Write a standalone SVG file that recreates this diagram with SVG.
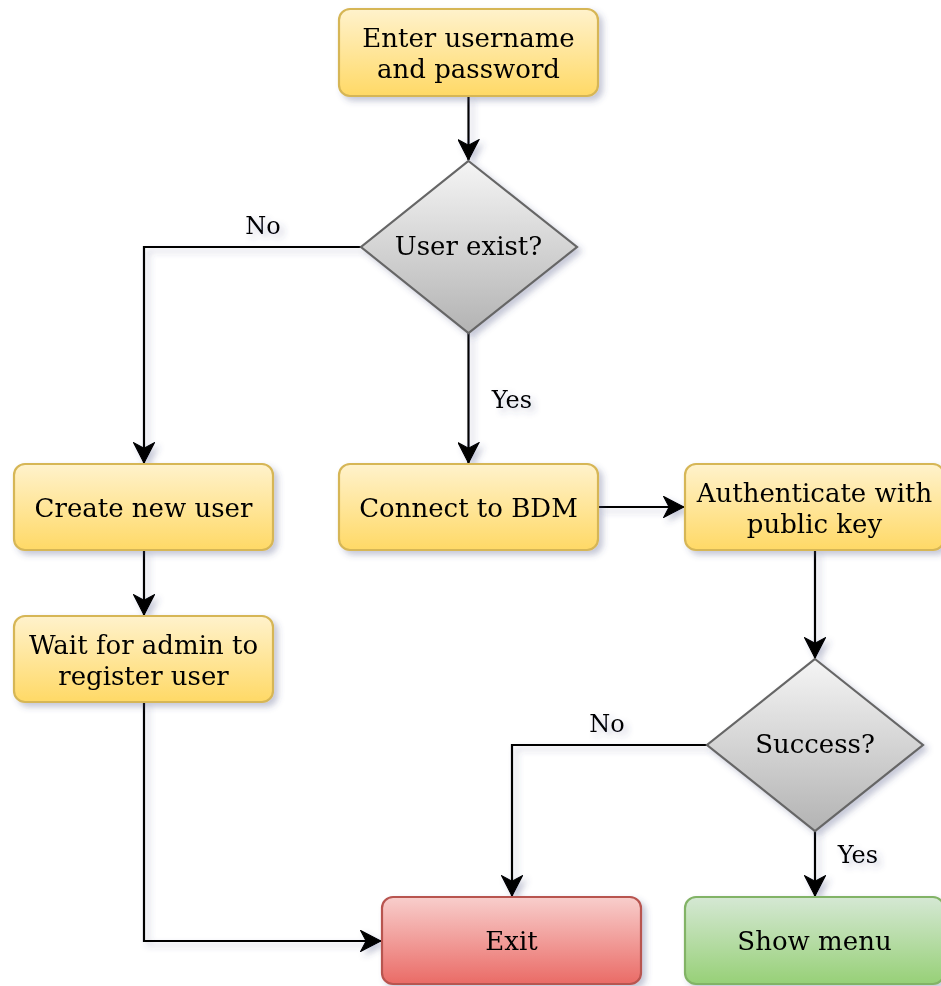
<svg xmlns="http://www.w3.org/2000/svg" width="941" height="986" viewBox="0 0 941 986">
  <defs>
    <linearGradient id="gYellow" x1="0" y1="0" x2="0" y2="1">
      <stop offset="0" stop-color="#fff2cc"/>
      <stop offset="1" stop-color="#ffd966"/>
    </linearGradient>
    <linearGradient id="gGray" x1="0" y1="0" x2="0" y2="1">
      <stop offset="0" stop-color="#f5f5f5"/>
      <stop offset="1" stop-color="#b3b3b3"/>
    </linearGradient>
    <linearGradient id="gRed" x1="0" y1="0" x2="0" y2="1">
      <stop offset="0" stop-color="#f8cecc"/>
      <stop offset="1" stop-color="#ea6b66"/>
    </linearGradient>
    <linearGradient id="gGreen" x1="0" y1="0" x2="0" y2="1">
      <stop offset="0" stop-color="#d5e8d4"/>
      <stop offset="1" stop-color="#97d077"/>
    </linearGradient>
    <filter id="shadow" x="-20%" y="-20%" width="140%" height="140%">
      <feDropShadow dx="4" dy="4" stdDeviation="3" flood-color="#3c4a7a" flood-opacity="0.3"/>
    </filter>
    <marker id="arrow" markerUnits="userSpaceOnUse" markerWidth="22" markerHeight="22" viewBox="0 0 20 20" refX="19" refY="10" orient="auto">
      <path d="M0.5,0.5 L19,10 L0.5,19.5 L5.5,10 Z" fill="#000" stroke="#000" stroke-width="1" stroke-linejoin="miter"/>
    </marker>
  </defs>
  <style>
    .box { stroke-width: 2.2; }
    .yellow { fill: url(#gYellow); stroke: #d6b656; }
    .gray { fill: url(#gGray); stroke: #666666; }
    .red { fill: url(#gRed); stroke: #b85450; }
    .green { fill: url(#gGreen); stroke: #82b366; }
    text { font-family: "DejaVu Serif", "Liberation Serif", serif; fill: #000; text-anchor: middle; }
    .t { font-size: 26px; }
    .lbl { font-size: 24px; }
    .edge { fill: none; stroke: #000; stroke-width: 2.2; marker-end: url(#arrow); }
  </style>

  <!-- connectors -->
  <g id="connectors" filter="url(#shadow)">
    <path class="edge" d="M468.5,96 L468.5,160"/>
    <path class="edge" d="M361,247 L144,247 L144,463"/>
    <text class="lbl" x="263" y="234">No</text>
    <path class="edge" d="M468.5,333 L468.5,463"/>
    <text class="lbl" x="512" y="408">Yes</text>
    <path class="edge" d="M598,507 L684,507"/>
    <path class="edge" d="M815,550 L815,658"/>
    <path class="edge" d="M144,550 L144,615"/>
    <path class="edge" d="M144,702 L144,941 L381,941"/>
    <path class="edge" d="M707,745 L512,745 L512,896"/>
    <text class="lbl" x="607" y="732">No</text>
    <path class="edge" d="M815,831 L815,896"/>
    <text class="lbl" x="858" y="863">Yes</text>
  </g>

  <!-- nodes -->
  <g id="enter" filter="url(#shadow)">
    <rect class="box yellow" x="339" y="9" width="259" height="87" rx="11"/>
    <text class="t" x="468.5" y="46.5">Enter username</text>
    <text class="t" x="468.5" y="77.5">and password</text>
  </g>
  <g id="user-exist" filter="url(#shadow)">
    <polygon class="box gray" points="468.5,161 577,247 468.5,333 361,247"/>
    <text class="t" x="468.5" y="255">User exist?</text>
  </g>
  <g id="create-user" filter="url(#shadow)">
    <rect class="box yellow" x="14" y="464" width="259" height="86" rx="11"/>
    <text class="t" x="143.5" y="516.5">Create new user</text>
  </g>
  <g id="connect-bdm" filter="url(#shadow)">
    <rect class="box yellow" x="339" y="464" width="259" height="86" rx="11"/>
    <text class="t" x="468.5" y="516.5">Connect to BDM</text>
  </g>
  <g id="authenticate" filter="url(#shadow)">
    <rect class="box yellow" x="685" y="464" width="259" height="86" rx="11"/>
    <text class="t" x="814.5" y="501.5">Authenticate with</text>
    <text class="t" x="814.5" y="532.5">public key</text>
  </g>
  <g id="wait-admin" filter="url(#shadow)">
    <rect class="box yellow" x="14" y="616" width="259" height="86" rx="11"/>
    <text class="t" x="143.5" y="653.5">Wait for admin to</text>
    <text class="t" x="143.5" y="684.5">register user</text>
  </g>
  <g id="success" filter="url(#shadow)">
    <polygon class="box gray" points="815,659 923,745 815,831 707,745"/>
    <text class="t" x="815" y="753">Success?</text>
  </g>
  <g id="exit" filter="url(#shadow)">
    <rect class="box red" x="382" y="897" width="259" height="87" rx="11"/>
    <text class="t" x="511.5" y="950">Exit</text>
  </g>
  <g id="show-menu" filter="url(#shadow)">
    <rect class="box green" x="685" y="897" width="259" height="87" rx="11"/>
    <text class="t" x="814.5" y="950">Show menu</text>
  </g>
</svg>
